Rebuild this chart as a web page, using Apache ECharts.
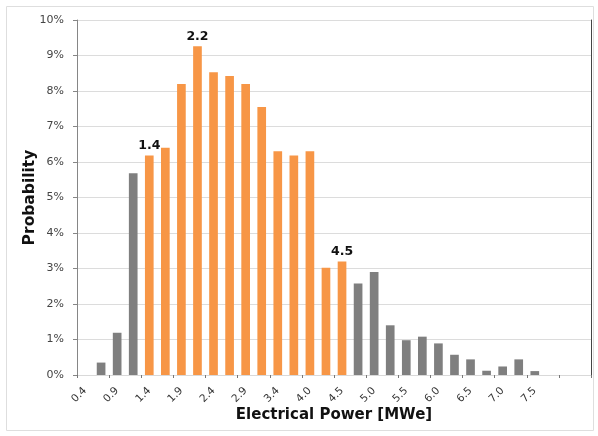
<!DOCTYPE html>
<html>
<head>
<meta charset="utf-8">
<script src="https://cdn.jsdelivr.net/npm/echarts@6/dist/echarts.min.js"></script>
<style>
html,body{margin:0;padding:0;background:#fff;}
#chart{width:598px;height:436px;}
</style>
</head>
<body>
<div id="chart"></div>
<script>
// Bin labels (MWe), every other one is shown on the axis (up to 7.5)
var categories = ['0.4','0.7','0.9','1.2','1.4','1.7','1.9','2.2','2.4','2.7','2.9','3.2','3.4','3.7','4.0','4.2',
                  '4.5','4.7','5.0','5.2','5.5','5.7','6.0','6.2','6.5','6.7','7.0','7.3','7.5','7.8','8.0','8.3'];
var lastLabelledIndex = 28;
// Probability in percent
var probability = [0, 0.35, 1.19, 5.68, 6.18, 6.40, 8.20, 9.26, 8.53, 8.42, 8.20, 7.55, 6.30, 6.18, 6.30, 3.02,
                   3.20, 2.58, 2.90, 1.40, 0.98, 1.08, 0.89, 0.57, 0.44, 0.12, 0.24, 0.44, 0.11, 0, 0, 0];
// Highlighted (orange) range of bins
var highlighted = ['1.4','1.7','1.9','2.2','2.4','2.7','2.9','3.2','3.4','3.7','4.0','4.2','4.5'];
// Bins carrying a value label above the bar
var annotated = {'1.4':'1.4','2.2':'2.2','4.5':'4.5'};
var yTicks = ['0%','1%','2%','3%','4%','5%','6%','7%','8%','9%','10%'];

var ORANGE = '#F79646', GRAY = '#7F7F7F';
var data = categories.map(function(c, i){
  var item = {value: probability[i], itemStyle:{color: highlighted.indexOf(c) >= 0 ? ORANGE : GRAY}};
  if (annotated[c]) {
    item.label = {show:true, position:'top', formatter: annotated[c], fontWeight:'bold',
                  fontSize:12.5, color:'#111', fontFamily:'DejaVu Sans', distance:3};
  }
  return item;
});

var chart = echarts.init(document.getElementById('chart'), null, {renderer:'canvas'});
chart.setOption({
  animation:false,
  backgroundColor:'#fff',
  graphic:[{type:'rect', shape:{x:6.5, y:6.5, width:587, height:424}, style:{fill:'none', stroke:'#dedede', lineWidth:1}, silent:true}],
  grid:{left:77, right:7, top:20, bottom:61, containLabel:false},
  xAxis:{
    type:'category', data:categories, boundaryGap:true,
    name:'Electrical Power [MWe]', nameLocation:'middle', nameGap:33, nameMoveOverlap:false,
    nameTextStyle:{fontFamily:'DejaVu Sans', fontWeight:'bold', fontSize:15, color:'#111'},
    axisLine:{show:true, lineStyle:{color:'#d9d9d9'}},
    axisTick:{show:true, interval:1, length:3, lineStyle:{color:'#777'}},
    axisLabel:{interval:function(i){ return i % 2 === 0 && i <= lastLabelledIndex; },
               rotate:45, fontFamily:'DejaVu Sans', fontSize:10.5, color:'#333', margin:14}
  },
  yAxis:[{
    type:'value', min:0, max:10, interval:1,
    name:'Probability', nameLocation:'middle', nameGap:39, nameRotate:90, nameMoveOverlap:false,
    nameTextStyle:{fontFamily:'DejaVu Sans', fontWeight:'bold', fontSize:15.5, color:'#111'},
    axisLine:{show:true, lineStyle:{color:'#868686'}},
    axisTick:{show:true, length:4, lineStyle:{color:'#868686'}},
    axisLabel:{fontFamily:'DejaVu Sans', fontSize:11, color:'#444', margin:13,
               formatter:function(v){ return yTicks[Math.round(v)]; }},
    splitLine:{show:true, lineStyle:{color:'#dcdcdc'}}
  },{
    type:'value', min:0, max:10, position:'right',
    axisLine:{show:true, lineStyle:{color:'#444'}},
    axisTick:{show:false}, axisLabel:{show:false}, splitLine:{show:false}
  }],
  series:[{
    type:'bar', data:data, barWidth:'54%', yAxisIndex:0
  }]
});
</script>
</body>
</html>
